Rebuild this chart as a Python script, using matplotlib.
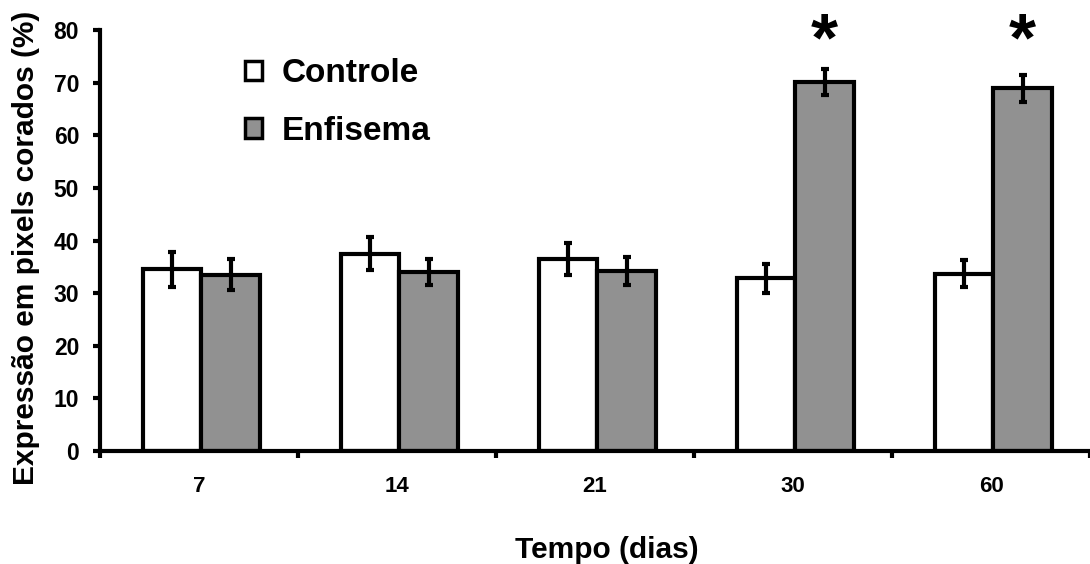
import numpy as np
import matplotlib
matplotlib.use('Agg')
import matplotlib.pyplot as plt
from matplotlib.patches import Patch

plt.rcParams['font.family'] = ['Liberation Sans', 'DejaVu Sans']
plt.rcParams['font.weight'] = 'bold'

dias = ['7', '14', '21', '30', '60']
controle = [34.5, 37.5, 36.5, 32.8, 33.7]
controle_err = [3.4, 3.2, 3.0, 2.8, 2.6]
enfisema = [33.5, 34.0, 34.2, 70.1, 68.9]
enfisema_err = [3.0, 2.5, 2.6, 2.5, 2.5]
significativo = [False, False, False, True, True]

cinza = '#919191'
w = 0.295
x = np.arange(len(dias))

fig = plt.figure(figsize=(10.9, 5.64), dpi=100)
ax = fig.add_axes([100/1090, 113/564, 990/1090, 421/564])

err_kw = dict(elinewidth=3, capsize=3.2, capthick=3, ecolor='black')
ax.bar(x - w/2 + 0.012, controle, w, color='white', edgecolor='black', linewidth=3,
       yerr=controle_err, error_kw=err_kw, zorder=2)
ax.bar(x + w/2 + 0.012, enfisema, w, color=cinza, edgecolor='black', linewidth=3,
       yerr=enfisema_err, error_kw=err_kw, zorder=2)

# asteriscos todos na mesma altura
topo = max(e + s for e, s in zip(enfisema, enfisema_err))
for i in range(len(dias)):
    if significativo[i]:
        ax.text(x[i] + w/2 + 0.012, topo + 5.0, '*',
                ha='center', va='center', fontsize=50, fontweight='bold', clip_on=False)

ax.set_xlim(-0.5, 4.5)
ax.set_ylim(0, 80)
ax.set_yticks(np.arange(0, 81, 10))
ax.set_xticks(np.arange(-0.5, 5, 1))
ax.set_xticklabels([])
ax.set_xticks(x, minor=True)
ax.set_xticklabels(dias, minor=True)
ax.tick_params(axis='x', which='minor', length=0, pad=18, labelsize=16)
ax.tick_params(axis='x', which='major', length=5, width=3, direction='out')
ax.tick_params(axis='y', length=5, width=3, direction='out', pad=10, labelsize=16.5)
for lab in ax.get_xticklabels(minor=True) + ax.get_yticklabels():
    lab.set_fontweight('bold')

for s in ['top', 'right']:
    ax.spines[s].set_visible(False)
for s in ['left', 'bottom']:
    ax.spines[s].set_linewidth(3)
ax.spines['bottom'].set_zorder(3)

ax.set_ylabel('Expressão em pixels corados (%)', fontsize=21.5, fontweight='bold')
ax.yaxis.set_label_coords(-0.061, 0.483)
ax.set_xlabel('Tempo (dias)', fontsize=21.5, fontweight='bold')
ax.xaxis.set_label_coords(0.512, -0.202)

handles = [Patch(facecolor='white', edgecolor='black', linewidth=2.5, label='Controle'),
           Patch(facecolor=cinza, edgecolor='black', linewidth=2.5, label='Enfisema')]
leg = ax.legend(handles=handles, loc='upper left', bbox_to_anchor=(0.146, 0.933),
                frameon=False, fontsize=24, handlelength=0.52, handleheight=0.52,
                handletextpad=0.6, labelspacing=0.8, borderpad=0, borderaxespad=0)
for t in leg.get_texts():
    t.set_fontweight('bold')

fig.savefig('out.png', dpi=100)
